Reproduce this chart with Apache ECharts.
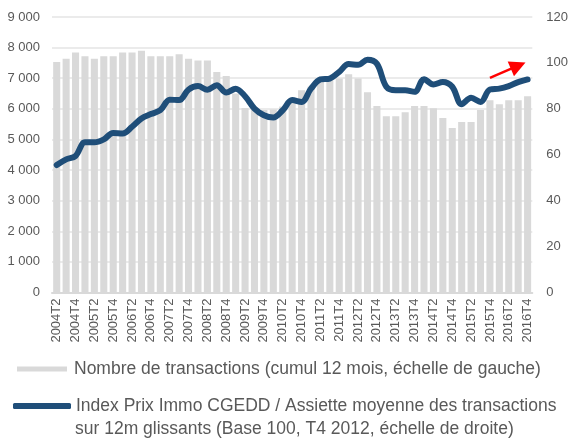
<!DOCTYPE html>
<html>
<head>
<meta charset="utf-8">
<script src="https://cdn.jsdelivr.net/npm/echarts@6/dist/echarts.min.js"></script>
<style>
html,body{margin:0;padding:0;background:#fff;}
#c{width:571px;height:438px;}
</style>
</head>
<body>
<div id="c"></div>
<script>
const categories = [
  '2004T2','2004T3','2004T4','2005T1','2005T2','2005T3','2005T4','2006T1','2006T2','2006T3','2006T4',
  '2007T1','2007T2','2007T3','2007T4','2008T1','2008T2','2008T3','2008T4','2009T1','2009T2','2009T3','2009T4',
  '2010T1','2010T2','2010T3','2010T4','2011T1','2011T2','2011T3','2011T4','2012T1','2012T2','2012T3','2012T4',
  '2013T1','2013T2','2013T3','2013T4','2014T1','2014T2','2014T3','2014T4','2015T1','2015T2','2015T3','2015T4',
  '2016T1','2016T2','2016T3','2016T4'
];
const transactions = [
  7530,7640,7840,7720,7640,7720,7720,7840,7840,7900,7720,
  7720,7720,7780,7640,7580,7580,7200,7070,6500,6030,5980,5960,
  5980,6080,6280,6610,6720,6880,6940,6990,7130,6990,6540,6090,
  5760,5760,5890,6090,6090,6020,5700,5370,5570,5570,5960,6280,
  6150,6280,6280,6410
];
const priceIndex = [
  55.5,58,59.5,65.4,65.4,66.7,69.5,69.3,72.2,75.8,77.7,
  79.4,84,83.8,88.4,89.9,88.3,90.3,87.1,88.8,85.5,80.1,77.2,
  76.2,79.4,83.8,83,88.8,92.8,93.2,96.1,99.5,99.2,101.4,99.6,
  89.6,88.1,88.1,87.4,92.9,90.6,91.7,89.6,82,84.8,83,88.4,
  88.8,89.9,91.6,92.8
];
const leftTicks = [0,1000,2000,3000,4000,5000,6000,7000,8000,9000];
const rightTicks = [0,20,40,60,80,100,120];
// trend arrow annotation: [category index, right-axis value]
const arrowStart = [46.4, 93.5];
const arrowEnd = [49.3, 98.8];

const nameBars = 'Nombre de transactions (cumul 12 mois, échelle de gauche)';
const nameLine = 'Index Prix Immo CGEDD / Assiette moyenne des transactions';
const nameLine2 = 'sur 12m glissants (Base 100, T4 2012, échelle de droite)';

const FONT = 'Liberation Sans';
const GREY = '#595959';
const LEG = 17.5;

function fmtThousands(v){ return String(v).replace(/\B(?=(\d{3})+(?!\d))/g, ' '); }

const chart = echarts.init(document.getElementById('c'), null, {renderer:'canvas'});
chart.setOption({
  animation: false,
  backgroundColor: '#fff',
  textStyle: {fontFamily: FONT},
  grid: {left: 52, right: 38, top: 17, bottom: 145.5, containLabel: false},
  xAxis: {
    type: 'category',
    data: categories,
    boundaryGap: true,
    axisLine: {lineStyle: {color: '#d9d9d9', width: 2}},
    axisTick: {show: false},
    axisLabel: {interval: 1, rotate: 90, margin: 6, color: GREY, fontSize: 13, fontFamily: FONT}
  },
  yAxis: [
    {
      type: 'value', min: leftTicks[0], max: leftTicks[leftTicks.length-1], interval: 1000,
      axisLine: {show: false}, axisTick: {show: false},
      splitLine: {lineStyle: {color: '#ebebeb', width: 2}},
      axisLabel: {margin: 12, color: GREY, fontSize: 13, fontFamily: FONT, formatter: fmtThousands}
    },
    {
      type: 'value', min: rightTicks[0], max: rightTicks[rightTicks.length-1], interval: 20,
      axisLine: {show: false}, axisTick: {show: false}, splitLine: {show: false},
      axisLabel: {margin: 14, color: GREY, fontSize: 13, fontFamily: FONT}
    }
  ],
  legend: [
    {
      data: [{name: nameBars, icon: 'rect'}],
      left: 17, top: 360, orient: 'vertical',
      itemWidth: 50, itemHeight: 5, padding: 0,
      textStyle: {color: GREY, fontSize: LEG, fontFamily: FONT, padding: [0,0,0,2]},
      selectedMode: false
    },
    {
      data: [{name: nameLine, icon: 'roundRect'}],
      left: 13, top: 397, orient: 'vertical',
      itemWidth: 58, itemHeight: 6, padding: 0,
      textStyle: {color: GREY, fontSize: LEG, fontFamily: FONT},
      selectedMode: false
    }
  ],
  graphic: [
    {type: 'text', left: 75, top: 420, style: {text: nameLine2, fill: GREY, font: LEG + 'px "' + FONT + '"'}}
  ],
  series: [
    {
      name: nameBars, type: 'bar', data: transactions, yAxisIndex: 0,
      barCategoryGap: '25%',
      itemStyle: {color: '#d9d9d9'}
    },
    {
      name: nameLine, type: 'line', data: priceIndex, yAxisIndex: 1,
      smooth: 0.35, showSymbol: false, symbol: 'none',
      lineStyle: {color: '#1f4e79', width: 6, cap: 'round', join: 'round'},
      itemStyle: {color: '#1f4e79'},
      markLine: {
        silent: true, animation: false,
        symbol: ['none', 'triangle'], symbolSize: [16, 16],
        lineStyle: {color: '#ff0000', width: 2.5, type: 'solid'},
        label: {show: false},
        data: [[{coord: arrowStart}, {coord: arrowEnd}]]
      }
    }
  ]
});
</script>
</body>
</html>
